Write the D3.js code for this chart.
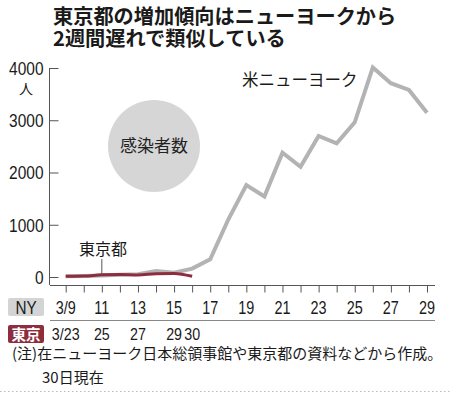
<!DOCTYPE html>
<html><head><meta charset="utf-8">
<script src="https://cdn.jsdelivr.net/npm/d3@7/dist/d3.min.js"></script>
<style>
body{margin:0;background:#fff;}
svg{display:block;}
text{font-family:"Liberation Sans","Noto Sans CJK JP",sans-serif;}
.jp{font-family:"Noto Sans CJK JP",sans-serif;}
</style></head>
<body><svg id="c" width="450" height="393"></svg>
<script>
// Data
const nyDays = [9,10,11,12,13,14,15,16,17,18,19,20,21,22,23,24,25,26,27,28,29];
const nyCases = [12,20,30,45,55,115,80,160,340,1100,1760,1540,2380,2110,2700,2560,2960,4010,3710,3580,3145];
const tokyoDays = [23,24,25,26,27,28,29,30];
const tokyoCases = [16,17,41,47,40,63,68,13];
const tokyoOffset = 14; // 2 weeks later
const yTicks = [0,1000,2000,3000,4000];
const nyTickLabels = [[9,"3/9"],[11,"11"],[13,"13"],[15,"15"],[17,"17"],[19,"19"],[21,"21"],[23,"23"],[25,"25"],[27,"27"],[29,"29"]];
const tokyoTickLabels = [[23,"3/23"],[25,"25"],[27,"27"],[29,"29"],[30,"30"]];
const titleLines = ["東京都の増加傾向はニューヨークから","2週間遅れで類似している"];

const svg = d3.select("#c");
const x = d3.scaleLinear().domain([9,29]).range([65.7,427]);
const y = d3.scaleLinear().domain([0,4000]).range([277,68]);

const RED = "#8e2d3d";

// Title
svg.selectAll(".title").data(titleLines).join("text").attr("class","jp title")
  .attr("font-weight","bold").attr("font-size",20.2).attr("fill","#1a1a1a")
  .attr("x",53).attr("y",(d,i)=>24+i*22).text(d=>d);

// Circle label
svg.append("circle").attr("cx",154).attr("cy",146).attr("r",46).attr("fill","#d6d6d6");
svg.append("text").attr("class","jp").attr("x",154).attr("y",152).attr("text-anchor","middle").attr("font-size",17).attr("fill","#222").text("感染者数");

// Y axis
svg.append("line").attr("x1",49.5).attr("x2",49.5).attr("y1",y(4000)).attr("y2",285).attr("stroke","#555").attr("stroke-width",1);
const yAxis = d3.axisRight(y).tickValues(yTicks).tickSize(9).tickFormat(d3.format("d"));
const yg = svg.append("g").attr("transform","translate(49.5,0)").call(yAxis);
yg.select(".domain").remove();
yg.selectAll(".tick line").attr("stroke","#555");
yg.selectAll(".tick text").attr("x",0).attr("text-anchor","end").attr("font-size",18).attr("fill","#1a1a1a")
  .attr("dy","0.36em").attr("transform","translate(-6,0) scale(0.86,1)");
svg.append("text").attr("class","jp").attr("x",26).attr("y",94).attr("text-anchor","middle").attr("font-size",14).attr("fill","#1a1a1a").text("人");

// X axis
svg.append("line").attr("x1",50).attr("x2",435).attr("y1",285.5).attr("y2",285.5).attr("stroke","#555");
const xAxis = d3.axisBottom(x).tickValues(nyDays).tickSize(7).tickFormat("");
const xg = svg.append("g").attr("transform","translate(0,285.5)").call(xAxis);
xg.select(".domain").remove();
xg.selectAll(".tick line").attr("stroke","#555");

// NY row
svg.append("rect").attr("x",8).attr("y",298).attr("width",36).attr("height",18).attr("rx",2).attr("fill","#d4d4d4");
svg.append("text").attr("x",26).attr("y",314).attr("text-anchor","middle").attr("font-size",18).attr("fill","#1a1a1a")
  .attr("transform","translate(26,0) scale(0.85,1) translate(-26,0)").text("NY");
svg.selectAll(".nylab").data(nyTickLabels).join("text").attr("class","nylab")
  .attr("text-anchor","middle").attr("font-size",19).attr("fill","#1a1a1a")
  .attr("transform",d=>`translate(${x(d[0])},314) scale(0.76,1)`).text(d=>d[1]);
svg.append("line").attr("x1",50).attr("x2",435).attr("y1",320.5).attr("y2",320.5).attr("stroke","#888");

// Tokyo row
svg.append("rect").attr("x",8).attr("y",325).attr("width",36).attr("height",18).attr("rx",2).attr("fill",RED);
svg.append("text").attr("class","jp").attr("x",26).attr("y",339.5).attr("text-anchor","middle").attr("font-size",14.5).attr("font-weight","bold").attr("fill","#fff").text("東京");
svg.selectAll(".tklab").data(tokyoTickLabels).join("text").attr("class","tklab")
  .attr("text-anchor","middle").attr("font-size",17).attr("fill","#1a1a1a")
  .attr("transform",d=>`translate(${x(d[0]-tokyoOffset)},340) scale(0.84,1)`).text(d=>d[1]);

// Lines
const nyLine = d3.line().x((d,i)=>x(nyDays[i])).y(d=>y(d));
svg.append("path").datum(nyCases).attr("d",nyLine).attr("fill","none").attr("stroke","#b3b3b3").attr("stroke-width",4).attr("stroke-linejoin","miter");
const tkLine = d3.line().x((d,i)=>x(tokyoDays[i]-tokyoOffset)).y(d=>y(d)).curve(d3.curveMonotoneX);
svg.append("path").datum(tokyoCases).attr("d",tkLine).attr("fill","none").attr("stroke",RED).attr("stroke-width",3);

// Labels on lines
svg.append("text").attr("class","jp").attr("x",242).attr("y",86).attr("font-size",16.5).attr("fill","#1a1a1a").text("米ニューヨーク");
svg.append("text").attr("class","jp").attr("x",103).attr("y",255).attr("text-anchor","middle").attr("font-size",16).attr("fill","#1a1a1a").text("東京都");
svg.append("line").attr("x1",x(11)).attr("x2",x(11)).attr("y1",259).attr("y2",y(41)).attr("stroke","#555");

// Note
svg.append("text").attr("class","jp").attr("x",12).attr("y",358.5).attr("font-size",15).attr("fill","#1a1a1a").text("(注)在ニューヨーク日本総領事館や東京都の資料などから作成。");
svg.append("text").attr("class","jp").attr("x",42).attr("y",383).attr("font-size",15).attr("fill","#1a1a1a").text("30日現在");
svg.append("line").attr("x1",0).attr("x2",450).attr("y1",391.5).attr("y2",391.5).attr("stroke","#bbb").attr("stroke-dasharray","1.5,2.5");
</script></body></html>
